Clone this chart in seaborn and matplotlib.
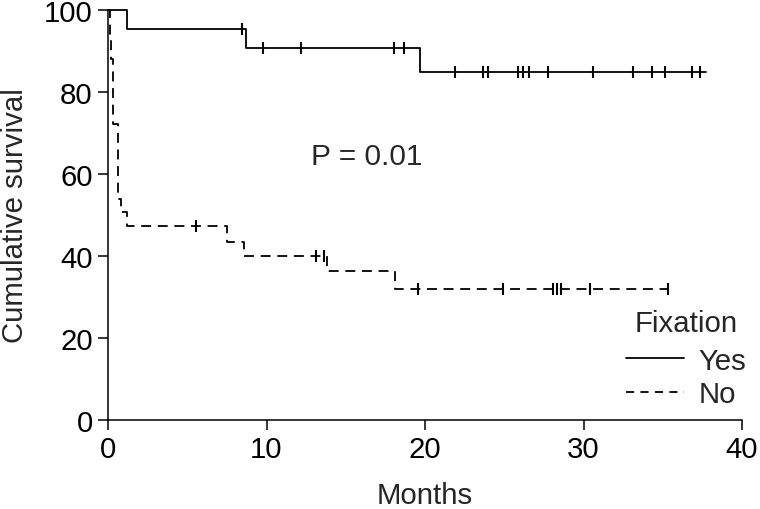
import numpy as np
import pandas as pd
import seaborn as sns
import matplotlib.pyplot as plt
from matplotlib.lines import Line2D

# Kaplan-Meier steps (months, cumulative survival %)
yes_event_times = [1.22, 8.7, 19.68]
yes_event_surv = [95.4, 90.7, 84.7]
yes_end = 37.7
yes_censor = [8.43, 9.78, 12.2, 18.04, 18.67, 21.87, 23.64, 23.96, 25.89, 26.16,
              26.54, 27.78, 30.6, 33.1, 34.3, 35.14, 36.86, 37.35]

no_event_times = [0.13, 0.19, 0.33, 0.6, 0.82, 1.18, 7.5, 8.55, 13.8, 18.1]
no_event_surv = [94.0, 87.9, 72.1, 53.8, 50.6, 47.2, 43.3, 39.9, 36.2, 32.0]
no_end = 35.35
no_censor = [5.56, 13.1, 13.6, 19.55, 24.9, 28.1, 28.35, 28.6, 30.4, 35.35]

groups = ["Yes", "No"]


def step_frame(times, surv, end, name):
    t = [0.0] + list(times) + [end]
    s = [100.0] + list(surv) + [surv[-1]]
    return pd.DataFrame({"Months": t, "Survival": s, "Fixation": name})


def censor_frame(times, ev_t, ev_s, name):
    ev_t = np.array(ev_t)
    lv = []
    for c in times:
        k = np.searchsorted(ev_t, c, side="right")
        lv.append(100.0 if k == 0 else ev_s[k - 1])
    return pd.DataFrame({"Months": times, "Survival": lv, "Fixation": name})


curves = pd.concat([step_frame(yes_event_times, yes_event_surv, yes_end, "Yes"),
                    step_frame(no_event_times, no_event_surv, no_end, "No")])
marks = pd.concat([censor_frame(yes_censor, yes_event_times, yes_event_surv, "Yes"),
                   censor_frame(no_censor, no_event_times, no_event_surv, "No")])

sns.set_style("ticks")
plt.rcParams["font.family"] = ["Liberation Sans", "DejaVu Sans"]
fs = 21.2

fig = plt.figure(figsize=(7.6, 5.1), dpi=100)
ax = fig.add_axes([108 / 760, 1 - 421 / 510, (742 - 108) / 760, (421 - 10.7) / 510])

dash_map = {"Yes": "", "No": (5.5, 3.7)}
sns.lineplot(data=curves, x="Months", y="Survival", style="Fixation",
             style_order=groups, dashes=dash_map, color="black",
             estimator=None, sort=False, drawstyle="steps-post",
             linewidth=1.3, legend=False, ax=ax)
for ln in ax.lines:
    ln.set_clip_on(False)

for g in groups:
    sub = marks[marks["Fixation"] == g]
    ax.plot(sub["Months"], sub["Survival"], linestyle="none", marker="|",
            markersize=8, markeredgewidth=1.5, color="black", clip_on=False)

ax.set_xlim(0, 40)
ax.set_ylim(0, 100)
ax.set_xticks([0, 10, 20, 30, 40])
ax.set_yticks([0, 20, 40, 60, 80, 100])
ax.tick_params(direction="out", length=7, width=1.1, labelsize=fs,
               colors="black", pad=4)
for sp in ["left", "bottom"]:
    ax.spines[sp].set_linewidth(1.1)
    ax.spines[sp].set_color("black")
sns.despine(ax=ax)

ax.set_xlabel("Months", fontsize=fs, labelpad=13)
ax.set_ylabel("Cumulative survival", fontsize=fs, labelpad=11)

ax.text(16.3, 64.3, "P = 0.01", fontsize=21.5, ha="center", va="center")

handles = [Line2D([], [], color="black", lw=1.3),
           Line2D([], [], color="black", lw=1.3, linestyle=(0, (4.5, 3.5)))]
leg = ax.legend(handles, groups, title="Fixation", frameon=False, fontsize=fs,
                title_fontsize=fs, handlelength=1.95, handletextpad=0.5,
                labelspacing=0.18, borderpad=0, borderaxespad=0,
                loc="upper right", bbox_to_anchor=(746 / 760, 1 - 310 / 510),
                bbox_transform=fig.transFigure)
leg._legend_box.sep = 7

fig.savefig("out.png", dpi=100)
